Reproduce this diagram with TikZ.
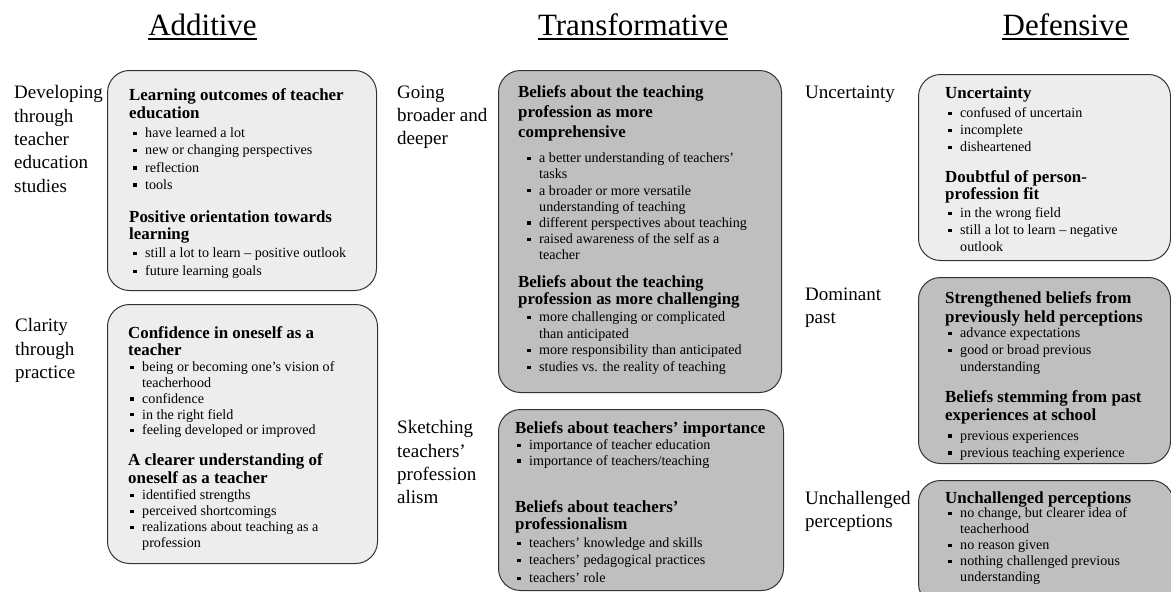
\documentclass[tikz,border=0pt]{standalone}
\usepackage{fontspec}
\setmainfont{Liberation Serif}
\newcommand\bl{\makebox[12pt][l]{\raisebox{0.18em}{\rule{3.4pt}{3.4pt}}}}
\newcommand\cn{\hspace*{12pt}}
\tikzset{
  ttl/.style={font=\fontsize{31}{36}\selectfont, anchor=base, inner sep=0pt},
  lab/.style={font=\fontsize{19}{23.3}\selectfont, align=left, anchor=north west, inner sep=0pt},
  hd/.style={font=\bfseries\fontsize{16.9}{18}\selectfont, align=left, anchor=north west, inner sep=0pt},
  itm/.style={font=\fontsize{14.1}{16.5}\selectfont, align=left, anchor=north west, inner sep=0pt},
  boxbase/.style={draw=black!80, line width=1pt, rounded corners=22pt, anchor=north west, inner sep=0pt},
  lightbox/.style={boxbase, fill=black!7},
  darkbox/.style={boxbase, fill=black!25},
  uline/.style={line width=1.5pt}
}
\begin{document}
\begin{tikzpicture}[x=1pt,y=-1pt]
\useasboundingbox (0,0) rectangle (1171,592);
\fill[white] (0,0) rectangle (1171,592);

% titles
\node[ttl] (tA) at (202.5,35) {Additive};
\node[ttl] (tT) at (633,35) {Transformative};
\node[ttl] (tD) at (1065.5,35) {Defensive};
\draw[uline] ([yshift=-4pt]tA.base west) -- ([yshift=-4pt]tA.base east);
\draw[uline] ([yshift=-4pt]tT.base west) -- ([yshift=-4pt]tT.base east);
\draw[uline] ([yshift=-4pt]tD.base west) -- ([yshift=-4pt]tD.base east);

% boxes
\node[lightbox, minimum width=269pt, minimum height=220pt] (bA1) at (107,70) {};
\node[lightbox, minimum width=270pt, minimum height=259pt] (bA2) at (107,304) {};
\node[darkbox, minimum width=283pt, minimum height=322pt] (bT1) at (498,70) {};
\node[darkbox, minimum width=285pt, minimum height=181pt] (bT2) at (498,409) {};
\node[lightbox, minimum width=252pt, minimum height=186pt] (bD1) at (918,74) {};
\node[darkbox, minimum width=252pt, minimum height=186pt] (bD2) at (918,277) {};
\node[darkbox, minimum width=255pt, minimum height=125pt] (bD3) at (918,480) {};

% left labels
\node[lab] (l1) at (14,85.5) {Developing\\through\\teacher\\education\\studies};
\node[lab] (l2) at (15,318.5) {Clarity\\through\\practice};
\node[lab] (l3) at (397,85.5) {Going\\broader and\\deeper};
\node[lab] (l4) at (397,420.5) {Sketching\\teachers’\\profession\\alism};
\node[lab] (l5) at (805,85.5) {Uncertainty};
\node[lab] (l6) at (805,287.5) {Dominant\\past};
\node[lab, font=\fontsize{19}{22.5}\selectfont] (l7) at (805,491.5) {Unchallenged\\perceptions};

% box A1
\node[hd] (a1h1) at (129,88.5) {Learning outcomes of teacher\\education};
\node[itm, font=\fontsize{14.1}{17.3}\selectfont] (a1i1) at (133,127.5) {\bl have learned a lot\\\bl new or changing perspectives\\\bl reflection\\\bl tools};
\node[hd, font=\bfseries\fontsize{16.9}{17}\selectfont] (a1h2) at (129,210.5) {Positive orientation towards\\learning};
\node[itm, font=\fontsize{14.1}{18}\selectfont] (a1i2) at (133,247.5) {\bl still a lot to learn -- positive outlook\\\bl future learning goals};

% box A2
\node[hd, font=\bfseries\fontsize{16.9}{17}\selectfont] (a2h1) at (128,326.5) {Confidence in oneself as a\\teacher};
\node[itm, font=\fontsize{14.1}{15.8}\selectfont] (a2i1) at (130,361.5) {\bl being or becoming one’s vision of\\\cn teacherhood\\\bl confidence\\\bl in the right field\\\bl feeling developed or improved};
\node[hd] (a2h2) at (128,453.5) {A clearer understanding of\\oneself as a teacher};
\node[itm, font=\fontsize{14.1}{16}\selectfont] (a2i2) at (130,489.5) {\bl identified strengths\\\bl perceived shortcomings\\\bl realizations about teaching as a\\\cn profession};

% box T1
\node[hd, font=\bfseries\fontsize{16.9}{20}\selectfont] (t1h1) at (518,85.5) {Beliefs about the teaching\\profession as more\\comprehensive};
\node[itm, font=\fontsize{14.1}{16.2}\selectfont] (t1i1) at (527,152.5) {\bl a better understanding of teachers’\\\cn tasks\\\bl a broader or more versatile\\\cn understanding of teaching\\\bl different perspectives about teaching\\\bl raised awareness of the self as a\\\cn teacher};
\node[hd, font=\bfseries\fontsize{16.9}{17}\selectfont] (t1h2) at (518,275.5) {Beliefs about the teaching\\profession as more challenging};
\node[itm, font=\fontsize{14.1}{16.7}\selectfont] (t1i2) at (527,311.5) {\bl more challenging or complicated\\\cn than anticipated\\\bl more responsibility than anticipated\\\bl studies vs. the reality of teaching};

% box T2
\node[hd] (t2h1) at (515,421.5) {Beliefs about teachers’ importance};
\node[itm, font=\fontsize{14.1}{15.5}\selectfont] (t2i1) at (517,439.5) {\bl importance of teacher education\\\bl importance of teachers/teaching};
\node[hd, font=\bfseries\fontsize{16.9}{17}\selectfont] (t2h2) at (515,500.5) {Beliefs about teachers’\\professionalism};
\node[itm, font=\fontsize{14.1}{17.5}\selectfont] (t2i2) at (517,537.5) {\bl teachers’ knowledge and skills\\\bl teachers’ pedagogical practices\\\bl teachers’ role};

% box D1
\node[hd] (d1h1) at (945,86.5) {Uncertainty};
\node[itm, font=\fontsize{14.1}{17}\selectfont] (d1i1) at (948,107.5) {\bl confused of uncertain\\\bl incomplete\\\bl disheartened};
\node[hd, font=\bfseries\fontsize{16.9}{16.5}\selectfont] (d1h2) at (945,170.5) {Doubtful of person-\\profession fit};
\node[itm, font=\fontsize{14.1}{17}\selectfont] (d1i2) at (948,207.5) {\bl in the wrong field\\\bl still a lot to learn -- negative\\\cn outlook};

% box D2
\node[hd, font=\bfseries\fontsize{16.9}{19}\selectfont] (d2h1) at (945,291.5) {Strengthened beliefs from\\previously held perceptions};
\node[itm, font=\fontsize{14.1}{17}\selectfont] (d2i1) at (948,327.5) {\bl advance expectations\\\bl good or broad previous\\\cn understanding};
\node[hd] (d2h2) at (945,390.5) {Beliefs stemming from past\\experiences at school};
\node[itm, font=\fontsize{14.1}{17}\selectfont] (d2i2) at (948,430.5) {\bl previous experiences\\\bl previous teaching experience};

% box D3
\node[hd] (d3h1) at (945,491.5) {Unchallenged perceptions};
\node[itm, font=\fontsize{14.1}{16}\selectfont] (d3i1) at (948,507.5) {\bl no change, but clearer idea of\\\cn teacherhood\\\bl no reason given\\\bl nothing challenged previous\\\cn understanding};
\end{tikzpicture}
\end{document}
